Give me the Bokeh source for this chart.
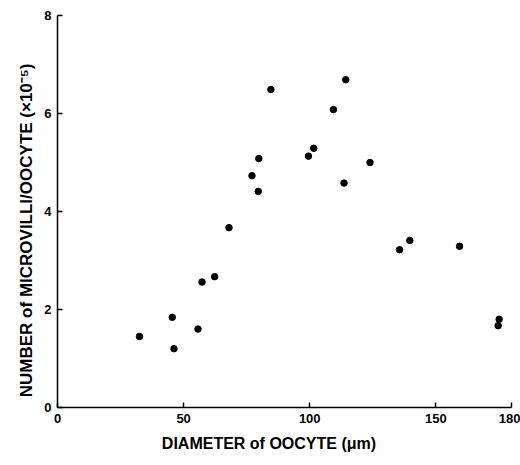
from bokeh.plotting import figure
from bokeh.models import Range1d, FixedTicker, ColumnDataSource
from bokeh.embed import file_html
from bokeh.resources import INLINE

# Data
diameter_um = [32.5, 45.5, 46.2, 55.7, 57.3, 62.3, 68.0, 77.1, 79.8, 79.6, 84.6,
               99.5, 101.6, 109.4, 114.3, 113.6, 123.9, 135.6, 139.7, 159.4, 175.1, 174.7]
microvilli_e5 = [1.45, 1.84, 1.20, 1.60, 2.56, 2.67, 3.67, 4.73, 5.08, 4.41, 6.49,
                 5.13, 5.29, 6.08, 6.69, 4.58, 5.00, 3.22, 3.41, 3.29, 1.80, 1.67]
x_ticks = [0, 50, 100, 150, 180]
y_ticks = [0, 2, 4, 6, 8]

src = ColumnDataSource(dict(x=diameter_um, y=microvilli_e5))

p = figure(width=520, height=460, output_backend="svg", toolbar_location=None,
           x_range=Range1d(0, 180), y_range=Range1d(0, 8),
           min_border_left=57, min_border_right=9, min_border_top=15, min_border_bottom=53)
p.outline_line_color = None
p.grid.visible = False

p.scatter("x", "y", source=src, size=6.5, color="black")

for ax, ticks in ((p.xaxis[0], x_ticks), (p.yaxis[0], y_ticks)):
    ax.ticker = FixedTicker(ticks=ticks)
    ax.minor_tick_line_color = None
    ax.major_tick_in = 5
    ax.major_tick_out = 0
    ax.axis_line_width = 1.5
    ax.major_tick_line_width = 1.5
    ax.axis_line_color = "black"
    ax.major_tick_line_color = "black"
    ax.major_label_text_font = "Liberation Sans"
    ax.major_label_text_font_style = "bold"
    ax.major_label_text_font_size = "13px"
    ax.major_label_text_color = "black"
    ax.axis_label_text_font = "Liberation Sans"
    ax.axis_label_text_font_style = "bold"
    ax.axis_label_text_color = "black"

nb = "\u00a0"
p.xaxis.axis_label = "DIAMETER of OOCYTE (\u03bcm)" + nb * 7
p.yaxis.axis_label = "NUMBER of MICROVILLI/OOCYTE (\u00d710\u207b\u2075)" + nb * 8
p.xaxis.axis_label_text_font_size = "16px"
p.yaxis.axis_label_text_font_size = "17px"
p.xaxis.major_label_standoff = 6
p.yaxis.major_label_standoff = 6
p.xaxis.axis_label_standoff = 9
p.yaxis.axis_label_standoff = 5

open("out.html", "w").write(file_html(p, INLINE))
